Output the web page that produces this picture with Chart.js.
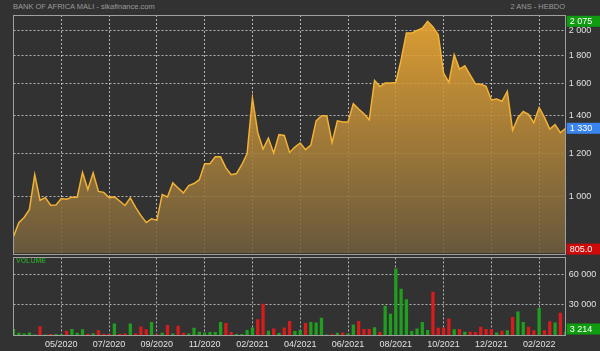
<!DOCTYPE html>
<html lang="fr">
<head>
  <meta charset="UTF-8" />
  <title>Bank of Africa Mali</title>
  <script src="https://cdn.jsdelivr.net/npm/chart.js"></script>
  <style>
    html, body { margin: 0; padding: 0; background: #323232; }
    body { width: 600px; height: 351px; position: relative; overflow: hidden; font-family: "Liberation Sans", Arial, sans-serif; }
    .lbl { position: absolute; font-size: 7.5px; color: #9a9a9a; white-space: nowrap; }
    canvas { position: absolute; left: 0; }
    #priceChart { top: 0; }
    #volChart { top: 249px; }
  </style>
</head>
<body>
  <div class="lbl" style="left:13px; top:2px">BANK OF AFRICA MALI - sikafinance.com</div>
  <div class="lbl" style="right:35px; top:2px">2 ANS - HEBDO</div>
  <canvas id="priceChart" width="600" height="262"></canvas>
  <canvas id="volChart" width="600" height="102"></canvas>
  <div class="lbl" style="left:16px; top:257px; font-size:7px; font-weight:bold; color:#2a962a">VOLUME</div>

  <script>
    // weekly closes
    const closes = [
      848, 898, 918, 949, 1097, 986, 997, 966, 967, 993,
      990, 999, 999, 1107, 1031, 1105, 1023, 1019, 997, 1000,
      983, 965, 996, 957, 925, 899, 913, 907, 1010, 1000,
      1060, 1038, 1017, 1048, 1057, 1074, 1148, 1148, 1181, 1181,
      1128, 1097, 1102, 1143, 1197, 1508, 1307, 1220, 1277, 1200,
      1295, 1291, 1203, 1230, 1251, 1217, 1240, 1372, 1401, 1401,
      1254, 1372, 1365, 1365, 1473, 1441, 1413, 1378, 1622, 1582,
      1605, 1605, 1609, 1768, 1976, 1976, 1997, 2016, 2075, 2027,
      1962, 1673, 1609, 1805, 1701, 1724, 1661, 1600, 1597, 1584,
      1496, 1502, 1488, 1550, 1319, 1390, 1426, 1410, 1361, 1450,
      1392, 1326, 1350, 1306, 1330
    ];
    const volumes = [
      5900, 2300, 1500, 2600, 500, 8800, 600, 1000, 1000, 800,
      4200, 5900, 2300, 5600, 1200, 1800, 4600, 1000, 1000, 11400,
      1000, 1500, 11400, 1500, 8500, 5600, 13000, 800, 2300, 10000,
      1500, 9200, 2300, 1500, 7200, 3300, 2600, 2900, 2900, 13000,
      12000, 2900, 1000, 1000, 4900, 7500, 15600, 31000, 4200, 6500,
      2000, 7500, 14000, 3900, 4900, 12000, 13000, 12400, 17000, 500,
      800, 2300, 2600, 1500, 10400, 14000, 5900, 5900, 7800, 2900,
      29000, 21000, 66000, 46000, 35500, 3900, 6500, 13000, 4900, 43000,
      7200, 7500, 16300, 5600, 5900, 3300, 3300, 2900, 8200, 5900,
      5600, 2600, 4200, 4600, 17900, 23400, 13000, 8200, 4600, 26700,
      4600, 13700, 12400, 22200, 3214
    ];
    const priceTicks = [1000, 1200, 1400, 1600, 1800, 2000];
    const volTicks = [30000, 60000];
    const tickIdx = [9, 18, 27, 36, 45, 54, 63, 72, 81, 90, 99];
    const tickLabels = ['05/2020', '07/2020', '09/2020', '11/2020', '02/2021', '04/2021',
                        '06/2021', '08/2021', '10/2021', '12/2021', '02/2022'];
    const lowTag = 805;

    // one category per week
    const weeks = [];
    const d0 = new Date(2020, 2, 6);
    for (let i = 0; i < closes.length; i++) {
      const d = new Date(d0.getTime() + i * 7 * 86400000);
      weeks.push(d.toLocaleDateString('fr-FR'));
    }

    const FONT = { family: '"Liberation Sans", Arial, sans-serif', size: 9 };
    const GRID = 'rgba(225,225,225,0.75)';
    const fmt = v => String(v).replace(/\B(?=(\d{3})+(?!\d))/g, ' ');

    const xTicks = s => { s.ticks = tickIdx.map(v => ({ value: v })); };

    // border of the panel + coloured value tags on the right
    const panelPlugin = {
      id: 'panel',
      afterDraw(chart, args, opts) {
        const ctx = chart.ctx, a = chart.chartArea, y = chart.scales.y;
        ctx.save();
        ctx.strokeStyle = '#a0a0a0';
        ctx.lineWidth = 1;
        ctx.strokeRect(Math.floor(a.left) + 0.5, Math.floor(a.top) + 0.5,
                       Math.round(a.right - a.left), Math.round(a.bottom - a.top));
        ctx.font = '9px "Liberation Sans", Arial, sans-serif';
        ctx.textBaseline = 'middle';
        (opts.tags || []).forEach(t => {
          let py = y.getPixelForValue(t.value);
          if (t.clamp) py = Math.min(py, a.bottom - 6);
          ctx.fillStyle = t.color;
          ctx.fillRect(a.right + 1, py - 5.5, chart.width - a.right, 11);
          ctx.fillStyle = '#ffffff';
          ctx.fillText(t.text, a.right + 4, py + 0.5);
        });
        ctx.restore();
      }
    };

    new Chart(document.getElementById('priceChart'), {
      type: 'line',
      data: {
        labels: weeks,
        datasets: [{
          data: closes,
          borderColor: '#f3b236',
          borderWidth: 1.5,
          pointRadius: 0,
          tension: 0,
          fill: 'start',
          backgroundColor: (c) => {
            const a = c.chart.chartArea;
            if (!a) return 'rgba(220,160,50,0.85)';
            const g = c.chart.ctx.createLinearGradient(0, a.top, 0, a.bottom);
            g.addColorStop(0, 'rgba(250,176,50,0.86)');
            g.addColorStop(1, 'rgba(112,94,62,0.86)');
            return g;
          }
        }]
      },
      options: {
        responsive: false,
        animation: false,
        layout: { padding: { left: 13.5, top: 15, right: 0, bottom: 8 } },
        plugins: {
          legend: { display: false },
          tooltip: { enabled: false },
          panel: {
            tags: [
              { value: Math.max(...closes), text: fmt(Math.max(...closes)), color: '#109c10' },
              { value: closes[closes.length - 1], text: fmt(closes[closes.length - 1]), color: '#3a84ee' },
              { value: lowTag, text: lowTag.toFixed(1), color: '#cc0a0a' }
            ]
          }
        },
        scales: {
          x: {
            offset: false,
            afterBuildTicks: xTicks,
            afterFit: s => { s.height = 0; },
            ticks: { display: false },
            grid: { color: GRID, drawTicks: false, offset: false },
            border: { display: false, dash: [2, 2] }
          },
          y: {
            type: 'logarithmic',
            position: 'right',
            min: 790,
            max: 2130,
            afterBuildTicks: s => { s.ticks = priceTicks.map(v => ({ value: v })); },
            afterFit: s => { s.width = 34.3; },
            ticks: { color: '#e0e0e0', font: FONT, padding: 3, callback: v => fmt(v) },
            grid: { color: GRID, drawTicks: false },
            border: { display: false, dash: [2, 2] }
          }
        }
      },
      plugins: [panelPlugin]
    });

    const barColors = closes.map((c, i) => (i === 0 || c >= closes[i - 1]) ? '#1f9e1f' : '#d81b1b');

    new Chart(document.getElementById('volChart'), {
      type: 'bar',
      data: {
        labels: weeks,
        datasets: [{
          data: volumes,
          backgroundColor: barColors,
          barPercentage: 0.62,
          categoryPercentage: 1
        }]
      },
      options: {
        responsive: false,
        animation: false,
        layout: { padding: { left: 13.5, top: 7, right: 0, bottom: 0 } },
        plugins: {
          legend: { display: false },
          tooltip: { enabled: false },
          panel: {
            tags: [
              { value: volumes[volumes.length - 1], text: fmt(volumes[volumes.length - 1]), color: '#109c10', clamp: true }
            ]
          }
        },
        scales: {
          x: {
            offset: false,
            afterBuildTicks: xTicks,
            afterFit: s => { s.height = 16; },
            ticks: {
              color: '#e0e0e0', font: FONT, padding: 4, autoSkip: false, maxRotation: 0,
              callback: v => tickLabels[tickIdx.indexOf(v)]
            },
            grid: { color: GRID, drawTicks: false, offset: false },
            border: { display: false, dash: [2, 2] }
          },
          y: {
            position: 'right',
            min: 0,
            max: 77000,
            afterBuildTicks: s => { s.ticks = volTicks.map(v => ({ value: v })); },
            afterFit: s => { s.width = 34.3; },
            ticks: { color: '#e0e0e0', font: FONT, padding: 3, callback: v => fmt(v) },
            grid: { color: GRID, drawTicks: false },
            border: { display: false, dash: [2, 2] }
          }
        }
      },
      plugins: [panelPlugin]
    });
  </script>
</body>
</html>
